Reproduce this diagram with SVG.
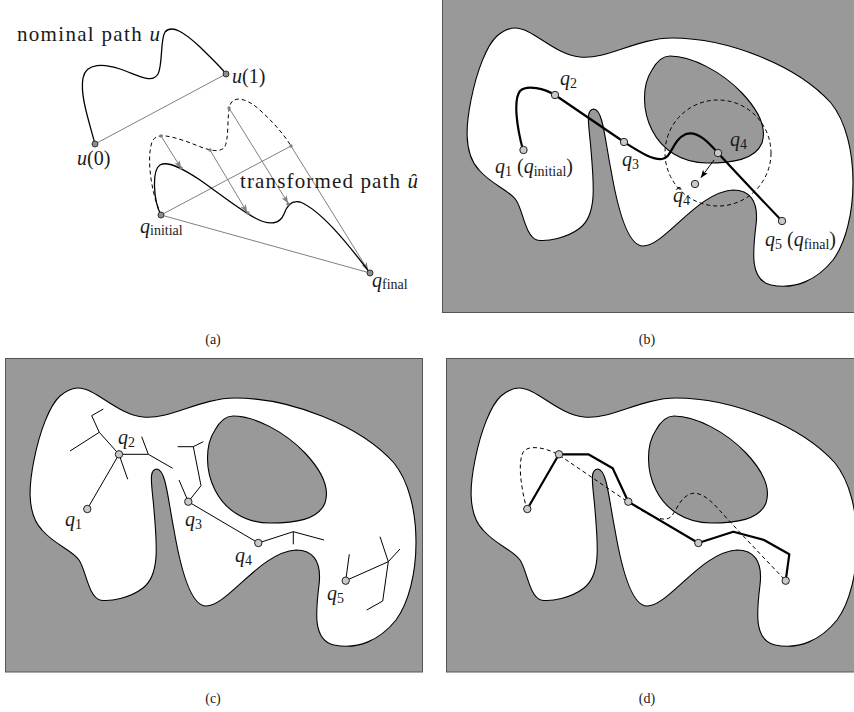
<svg xmlns="http://www.w3.org/2000/svg" xmlns:xlink="http://www.w3.org/1999/xlink" width="854" height="712" viewBox="0 0 854 712">
<style>
text{font-family:"Liberation Serif","Times New Roman",serif;fill:#1a1a1a}
.t{font-size:20px}
.big{font-size:21px}
.i{font-style:italic}
.s{font-size:14px}
.cap{font-size:14px}
.panel{fill:#999999;stroke:#555;stroke-width:1}
.free{fill:#fff;stroke:#000;stroke-width:1.1}
.hole{fill:#999999;stroke:#000;stroke-width:1.1}
.gl{fill:none;stroke:#808080;stroke-width:1}
.ga{fill:none;stroke:#808080;stroke-width:1;marker-end:url(#ga)}
.cur{fill:none;stroke:#000;stroke-width:1.3}
.dash{fill:none;stroke:#000;stroke-width:1;stroke-dasharray:4 3}
.thick{fill:none;stroke:#000;stroke-width:2.2;stroke-linejoin:round}
.tree{fill:none;stroke:#000;stroke-width:1}
.nd{fill:#c8c8c8;stroke:#222;stroke-width:1}
.ep{fill:#8c8c8c;stroke:#333;stroke-width:1}
.sd{fill:#808080}
</style>
<defs>
<marker id="ga" viewBox="0 0 8 6" refX="7.5" refY="3" markerWidth="8" markerHeight="6" markerUnits="userSpaceOnUse" orient="auto">
<path d="M0,0 L8,3 L0,6 L2,3 z" fill="#808080"/>
</marker>
<marker id="ba" viewBox="0 0 8 6" refX="7.5" refY="3" markerWidth="8" markerHeight="6" markerUnits="userSpaceOnUse" orient="auto">
<path d="M0,0 L8,3 L0,6 L2,3 z" fill="#000"/>
</marker>
<g id="env">
<path class="free" d="M 78,388 C 96,388 116,414 143,417 C 170,420 200,398 235,398 C 290,398 360,425 394,463 C 424,500 422,585 396,620 C 380,640 358,650 334,645 C 312,640 316,610 319,585 C 322,560 312,550 296,550 C 260,552 228,606 206,606 C 190,606 180,565 174,530 C 168,500 166,470 157,469 C 148,469 152,485 154,510 C 157,545 160,575 143,588 C 130,598 110,602 100,600 C 88,596 86,570 79,560 C 72,550 55,545 42,530 C 25,512 30,480 34,460 C 40,430 50,405 60,396 C 66,391 72,388 78,388 Z"/>
<path class="hole" d="M 233,416 C 255,416 285,432 305,453 C 322,471 330,488 325,503 C 318,520 295,523 270,523 C 245,523 225,510 215,490 C 205,470 205,445 215,430 C 220,421 226,416 233,416 Z"/>
</g>
<path id="bpath" d="M 523,150 C 517,128 513,100 520,91 C 527,84 545,89 555,95 L 624,142 C 640,152 652,160 662,159 C 672,158 672,140 686,134 C 698,130 710,144 718,153 C 740,177 760,198 782,221"/>
</defs>

<!-- Panel (a) -->
<g id="panel-a">
<g id="connectors-a">
<line class="gl" x1="95" y1="144" x2="226" y2="74"/>
<line class="gl" x1="161" y1="215" x2="291" y2="146"/>
<line class="gl" x1="161" y1="215" x2="370" y2="273"/>
<line class="ga" x1="161" y1="136" x2="181" y2="168"/>
<line class="ga" x1="210" y1="150" x2="247" y2="212"/>
<line class="ga" x1="229" y1="108" x2="288" y2="203"/>
<line class="ga" x1="291" y1="146" x2="368" y2="270"/>
<path class="cur" d="M 95,144 C 88,118 80,95 83,78 C 86,62 105,64 120,69 C 140,76 152,84 158,74 C 163,64 160,40 165,32 C 172,24 185,33 200,47 C 210,57 220,66 226,74"/>
<path class="dash" d="M 161,215 C 152,195 146,160 152,142 C 156,132 170,136 185,141 C 200,146 215,155 224,148 C 230,140 226,112 231,103 C 236,95 250,100 262,112 C 275,124 285,136 291,146"/>
<path class="cur" d="M 161,215 C 153,200 152,170 160,165 C 168,160 185,170 200,180 C 220,194 240,210 255,218 C 270,226 280,224 284,214 C 287,205 292,200 300,202 C 320,210 345,240 370,273"/>
</g>
<g id="dots-a">
<circle class="sd" cx="161" cy="136" r="1.7"/>
<circle class="sd" cx="210" cy="150" r="1.7"/>
<circle class="sd" cx="229" cy="108" r="1.7"/>
<circle class="sd" cx="291" cy="146" r="1.7"/>
<circle class="sd" cx="181" cy="168" r="1.7"/>
<circle class="sd" cx="248" cy="213" r="1.7"/>
<circle class="sd" cx="288" cy="204" r="1.7"/>
</g>
<g id="u0"><circle class="ep" cx="95" cy="144" r="3"/><text class="t" x="77" y="165"><tspan class="i">u</tspan>(0)</text></g>
<g id="u1"><circle class="ep" cx="226" cy="74" r="3"/><text class="t" x="232" y="83"><tspan class="i">u</tspan>(1)</text></g>
<g id="qinit"><circle class="ep" cx="161" cy="215" r="3"/><text class="t" x="140" y="233"><tspan class="i">q</tspan><tspan class="s" dy="2">initial</tspan></text></g>
<g id="qfinal"><circle class="ep" cx="370" cy="273" r="3"/><text class="t" x="372" y="287"><tspan class="i">q</tspan><tspan class="s" dy="2">final</tspan></text></g>
<text class="big" x="17" y="41" textLength="143" lengthAdjust="spacing">nominal path <tspan class="i">u</tspan></text>
<text class="big" x="240" y="188" textLength="178" lengthAdjust="spacing">transformed path <tspan class="i">û</tspan></text>
</g>
<text class="cap" x="213" y="344" text-anchor="middle">(a)</text>

<!-- Panel (b) -->
<g id="panel-b">
<rect class="panel" x="442.5" y="-1.5" width="418" height="314"/>
<use xlink:href="#env" href="#env" transform="translate(437,-360)"/>
<circle class="dash" cx="718" cy="153" r="53"/>
<g id="connectors-b">
<use xlink:href="#bpath" href="#bpath" class="thick"/>
<line x1="714" y1="160" x2="701" y2="177.5" stroke="#000" stroke-width="1" marker-end="url(#ba)"/>
</g>
<g id="b-q1"><circle class="nd" cx="523.5" cy="150" r="3.7"/><text class="t" x="495" y="173"><tspan class="i">q</tspan><tspan class="s" dy="3">1</tspan><tspan dy="-3"> (</tspan><tspan class="i">q</tspan><tspan class="s" dy="3">initial</tspan><tspan dy="-3">)</tspan></text></g>
<g id="b-q2"><circle class="nd" cx="555" cy="95" r="3.7"/><text class="t" x="560" y="85"><tspan class="i">q</tspan><tspan class="s" dy="3">2</tspan></text></g>
<g id="b-q3"><circle class="nd" cx="624" cy="142" r="3.7"/><text class="t" x="622" y="166"><tspan class="i">q</tspan><tspan class="s" dy="3">3</tspan></text></g>
<g id="b-q4"><circle class="nd" cx="718" cy="153" r="3.7"/><text class="t" x="730" y="146"><tspan class="i">q</tspan><tspan class="s" dy="3">4</tspan></text></g>
<g id="b-q4hat"><circle class="nd" cx="695" cy="184" r="3.7"/><text class="t" x="673" y="202"><tspan class="i">q̂</tspan><tspan class="s" dy="3">4</tspan></text></g>
<g id="b-q5"><circle class="nd" cx="782" cy="221" r="3.7"/><text class="t" x="765" y="246"><tspan class="i">q</tspan><tspan class="s" dy="3">5</tspan><tspan dy="-3"> (</tspan><tspan class="i">q</tspan><tspan class="s" dy="3">final</tspan><tspan dy="-3">)</tspan></text></g>
</g>
<text class="cap" x="647" y="344" text-anchor="middle">(b)</text>

<!-- Panel (c) -->
<g id="panel-c">
<rect class="panel" x="5.5" y="358.5" width="417" height="313.5"/>
<use xlink:href="#env" href="#env"/>
<g id="connectors-c">
<polyline class="tree" points="87.3,509 119,454.3"/>
<polyline class="tree" points="119,454.3 99.3,432.3 91.7,415.7 103.3,409"/>
<polyline class="tree" points="99.3,432.3 70,451"/>
<polyline class="tree" points="119,454.3 127.7,479.3"/>
<polyline class="tree" points="119,454.3 148.3,454.3 172.7,468.3"/>
<polyline class="tree" points="148.3,454.3 141.7,436.7"/>
<polyline class="tree" points="188.3,501.7 201,485.7 193.3,446.7 177.7,446.7"/>
<polyline class="tree" points="193.3,446.7 203.3,441.7"/>
<polyline class="tree" points="188.3,501.7 179,480"/>
<polyline class="tree" points="188.3,501.7 258.3,543 293.3,531.7 324,540"/>
<polyline class="tree" points="293.3,531.7 293.3,544.3"/>
<polyline class="tree" points="345.7,580.7 349.3,554.3"/>
<polyline class="tree" points="345.7,580.7 388.3,561.7 400,549"/>
<polyline class="tree" points="380,536.7 388.3,561.7 382.7,601 366.7,610"/>
</g>
<g id="c-q1"><circle class="nd" cx="87.3" cy="509" r="3.7"/><text class="t" x="65" y="526"><tspan class="i">q</tspan><tspan class="s" dy="3">1</tspan></text></g>
<g id="c-q2"><circle class="nd" cx="119" cy="454.3" r="3.7"/><text class="t" x="118" y="444"><tspan class="i">q</tspan><tspan class="s" dy="3">2</tspan></text></g>
<g id="c-q3"><circle class="nd" cx="188.3" cy="501.7" r="3.7"/><text class="t" x="185" y="526"><tspan class="i">q</tspan><tspan class="s" dy="3">3</tspan></text></g>
<g id="c-q4"><circle class="nd" cx="258.3" cy="543" r="3.7"/><text class="t" x="235" y="562"><tspan class="i">q</tspan><tspan class="s" dy="3">4</tspan></text></g>
<g id="c-q5"><circle class="nd" cx="345.7" cy="580.7" r="3.7"/><text class="t" x="327" y="600"><tspan class="i">q</tspan><tspan class="s" dy="3">5</tspan></text></g>
</g>
<text class="cap" x="213" y="703" text-anchor="middle">(c)</text>

<!-- Panel (d) -->
<g id="panel-d">
<rect class="panel" x="446.5" y="358.5" width="418" height="313.5"/>
<use xlink:href="#env" href="#env" transform="translate(441,0)"/>
<g id="connectors-d">
<use xlink:href="#bpath" href="#bpath" class="dash" transform="translate(4,360)"/>
<polyline class="thick" transform="translate(440,0)" points="87.3,509 119,454.3 148.3,454.3 172.7,468.3 188.3,501.7 258.3,543 293.3,531.7 324,540 349.3,554.3 345.7,580.7"/>
</g>
<g transform="translate(440,0)">
<circle id="d-q1" class="nd" cx="87.3" cy="509" r="3.7"/>
<circle id="d-q2" class="nd" cx="119" cy="454.3" r="3.7"/>
<circle id="d-q3" class="nd" cx="188.3" cy="501.7" r="3.7"/>
<circle id="d-q4" class="nd" cx="258.3" cy="543" r="3.7"/>
<circle id="d-q5" class="nd" cx="345.7" cy="580.7" r="3.7"/>
</g>
</g>
<text class="cap" x="647" y="703" text-anchor="middle">(d)</text>
</svg>
